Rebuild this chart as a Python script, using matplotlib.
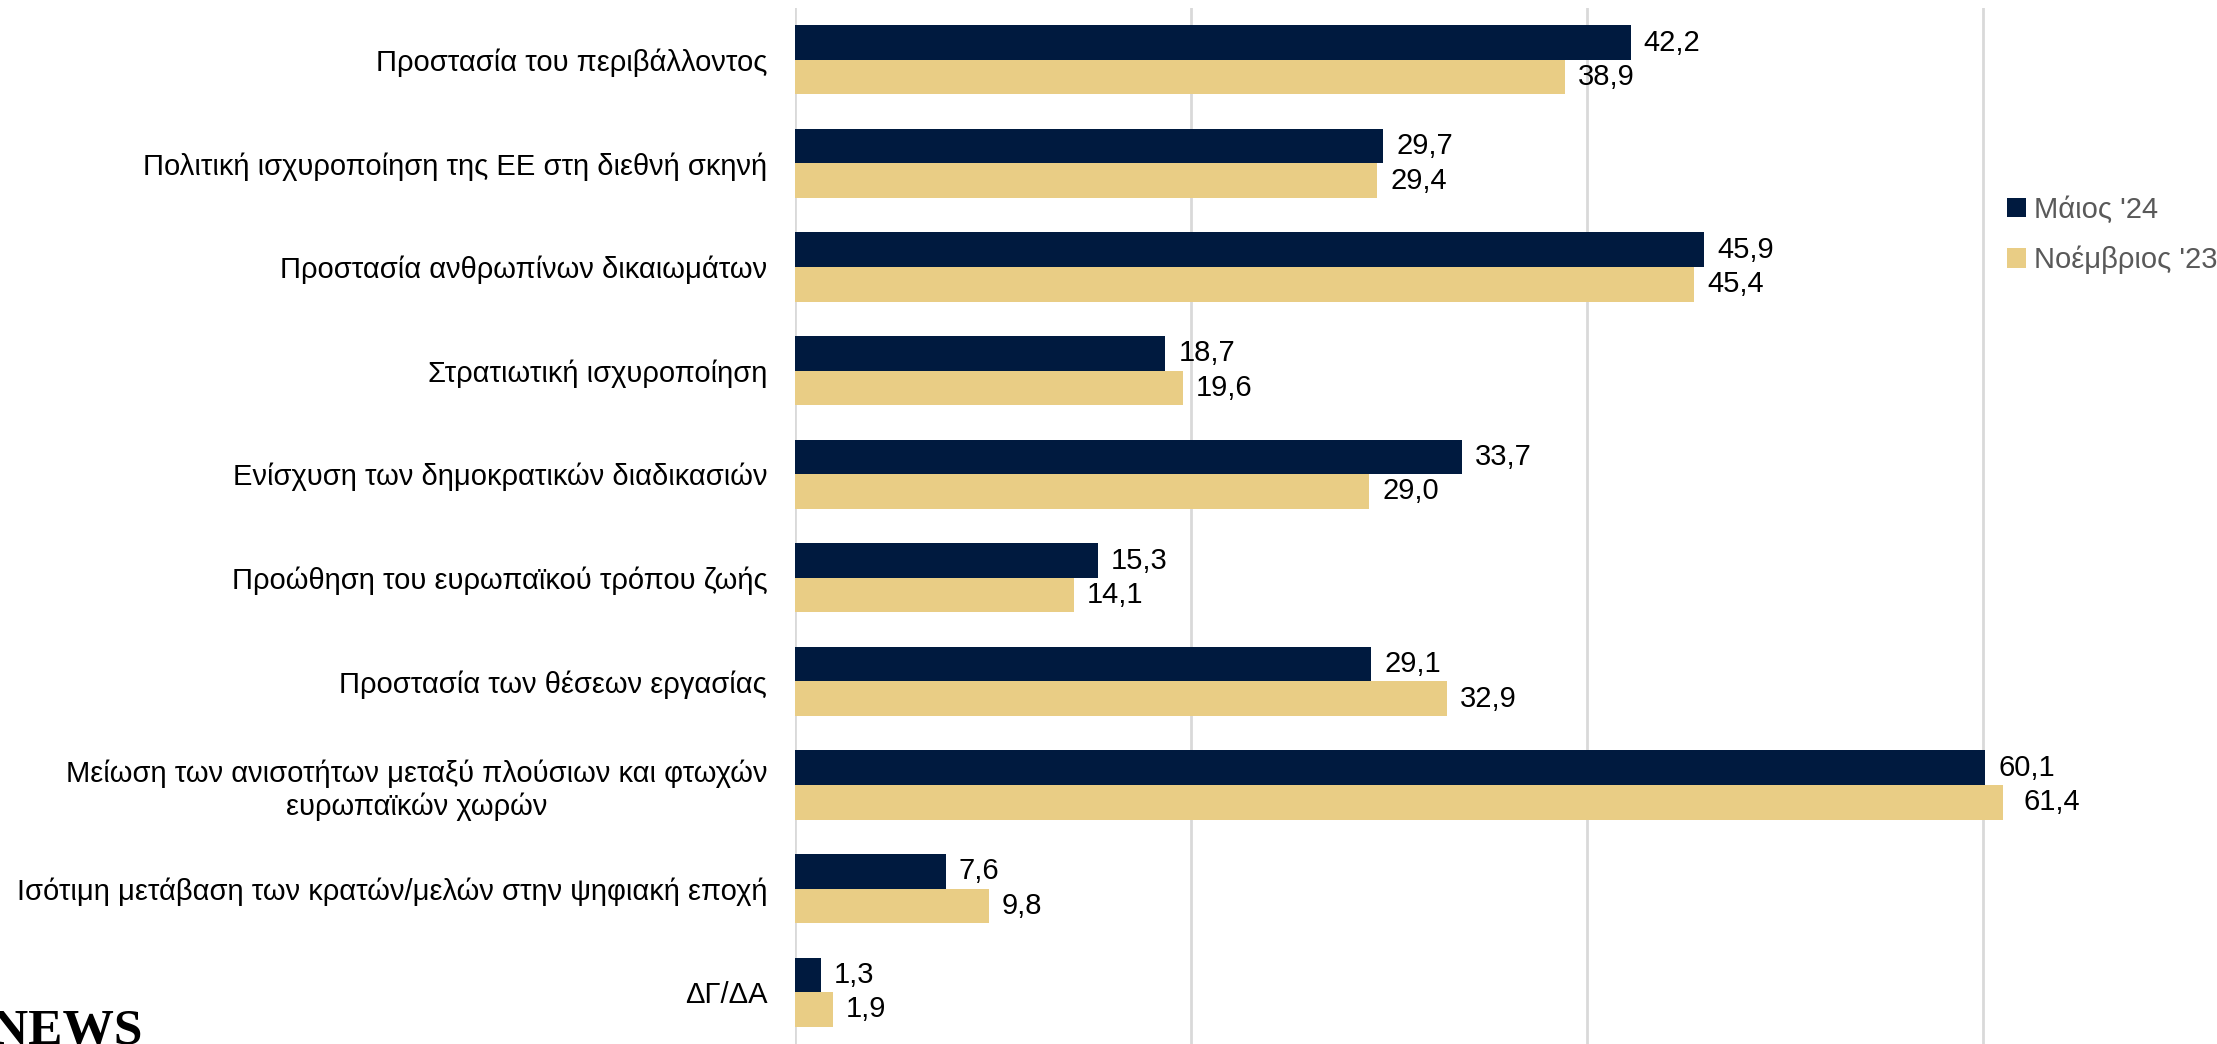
import matplotlib
matplotlib.use("Agg")
import matplotlib.pyplot as plt
from matplotlib.patches import Patch
import numpy as np

plt.rcParams['font.family'] = ['Liberation Sans', 'DejaVu Sans']

categories = [
    "Προστασία του περιβάλλοντος",
    "Πολιτική ισχυροποίηση της ΕΕ στη διεθνή σκηνή",
    "Προστασία ανθρωπίνων δικαιωμάτων",
    "Στρατιωτική ισχυροποίηση",
    "Ενίσχυση των δημοκρατικών διαδικασιών",
    "Προώθηση του ευρωπαϊκού τρόπου ζωής",
    "Προστασία των θέσεων εργασίας",
    "Μείωση των ανισοτήτων μεταξύ πλούσιων και φτωχών\nευρωπαϊκών χωρών",
    "Ισότιμη μετάβαση των κρατών/μελών στην ψηφιακή εποχή",
    "ΔΓ/ΔΑ",
]
series_names = ["Μάιος '24", "Νοέμβριος '23"]
may24 = [42.2, 29.7, 45.9, 18.7, 33.7, 15.3, 29.1, 60.1, 7.6, 1.3]
nov23 = [38.9, 29.4, 45.4, 19.6, 29.0, 14.1, 32.9, 61.4, 9.8, 1.9]
xticks = [0, 20, 40, 60]

navy = "#001a3f"
tan = "#e9cd85"
FS = 21

W, H = 2217, 1044
fig = plt.figure(figsize=(W / 100, H / 100), dpi=100)
ax = fig.add_axes([795 / W, 0.0, 1208 / W, 1 - 8 / H])

y = np.arange(len(categories))
bh = 1 / 3
b1 = ax.barh(y - bh / 2, may24, height=bh, color=navy, zorder=3)
b2 = ax.barh(y + bh / 2, nov23, height=bh, color=tan, zorder=3)

fmt = lambda v: f"{v:.1f}".replace(".", ",")
for bars, vals in ((b1, may24), (b2, nov23)):
    for rect, v in zip(bars, vals):
        ax.annotate(fmt(v), (v, rect.get_y() + rect.get_height() / 2),
                    xytext=(13, 0), textcoords="offset pixels",
                    ha="left", va="center", fontsize=FS, color="black",
                    annotation_clip=False)

ax.set_ylim(len(categories) - 0.5, -0.5)
ax.set_xlim(0, 61)
ax.set_xticks(xticks)
ax.set_xticklabels([])
ax.tick_params(axis="x", length=0)
ax.set_yticks(y)
ax.set_yticklabels(categories, fontsize=FS, color="black")
for lbl in ax.get_yticklabels():
    lbl.set_multialignment("center")
ax.tick_params(axis="y", length=0, pad=20)

ax.grid(axis="x", color="#d9d9d9", linewidth=2, zorder=0)
for s in ax.spines.values():
    s.set_visible(False)

handles = [Patch(facecolor=navy, edgecolor="none"), Patch(facecolor=tan, edgecolor="none")]
fig.legend(handles, series_names, loc="upper left", bbox_to_anchor=(1995 / W, 1 - 184 / H),
           frameon=False, fontsize=FS, labelcolor="#595959", handlelength=0.65,
           handleheight=0.65, handletextpad=0.3, labelspacing=0.75, borderaxespad=0)

fig.text(-0.004, 0.0, "NEWS", fontsize=37, fontweight="bold", family="Liberation Serif",
         color="black", ha="left", va="baseline")

fig.savefig("out.png", dpi=100)
